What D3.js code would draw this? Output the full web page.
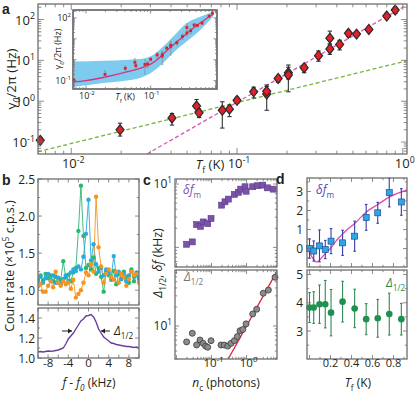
<!DOCTYPE html>
<html><head><meta charset="utf-8">
<script src="https://cdnjs.cloudflare.com/ajax/libs/d3/7.8.5/d3.min.js"></script>
<style>body{margin:0;background:#fff}svg{display:block;font-family:'Open Sans',sans-serif}</style>
</head><body><svg id="c" width="415" height="393"></svg>
<script>
// ---------------- DATA ----------------
// panel a (main + inset)
const aT     = [0.0065,0.0197,0.0405,0.057,0.059,0.0815,0.09,0.1,0.126,0.151,0.151,0.177,0.204,0.204,0.254,0.31,0.363,0.363,0.416,0.47,0.526,0.624,0.8,0.9];
const aGamma = [0.11,0.2,0.39,0.76,0.52,0.6,0.64,1.05,1.7,1.5,1.75,3.6,5.0,4.4,6.6,13,35,19,24.6,46,44,57,122,171];
const aErrLo = [0.09,0.14,0.26,0.55,0.4,0.22,0.42,0.88,1.2,0.6,1.3,2.9,3.5,1.7,5.0,9.5,25,14,18,38,38,49,105,140];
const aErrHi = [0.13,0.29,0.5,1.1,0.65,0.97,0.8,1.25,2.2,2.5,2.3,4.2,6.8,7.7,8.0,17,52,25,31,53,50,65,140,200];
const greenFitT = [0.0063, 1.06];
const greenFitG = [0.058, 9.8];
const magFitT = [0.0286, 1.06];
const magFitG = [0.051, 229];
const insetCurveT = [0.0063,0.01,0.02,0.04,0.07,0.1,0.13,0.17,0.22,0.3,0.4,0.55,0.75,0.95];
const insetCurveG = [0.085,0.1,0.15,0.25,0.4,0.62,1.1,2.4,5.0,11,24,50,100,160];
const bandT  = [0.0063,0.0186,0.04,0.068,0.09,0.11,0.156,0.25,0.36,0.51,0.92];
const bandHi = [0.83,0.9,0.98,1.08,1.3,1.73,4.3,18.8,56,96,200];
const bandLo = [0.05,0.078,0.1,0.135,0.19,0.28,0.7,3.0,7.5,18,115];
const aYTicks = [-1,0,1,2];
const aXTicks = [-2,-1,0];

// panel b
const bFreq = [-10,-9.5,-9,-8.5,-8,-7.5,-7,-6.5,-6,-5.5,-5,-4.5,-4,-3.5,-3,-2.5,-2,-1.5,-1,-0.5,0,0.5,1,1.5,2,2.5,3,3.5,4,4.5,5,5.5,6,6.5,7,7.5,8,8.5,9,9.5,10];
const bGreen  = [1.15,1.20,1.13,1.22,1.16,1.20,1.12,1.18,1.10,1.14,1.39,1.17,1.21,1.12,1.24,1.30,1.80,2.41,1.73,1.30,1.34,1.28,1.44,1.22,1.30,1.18,0.98,1.25,1.20,1.14,1.26,1.08,1.22,1.15,1.25,1.18,1.10,1.28,1.12,1.20,1.15];
const bBlue   = [1.12,1.18,1.10,1.16,1.22,1.14,1.20,1.10,1.17,1.08,1.15,1.20,1.12,1.24,1.28,1.26,1.32,1.28,1.45,1.76,2.22,1.40,1.62,1.35,1.25,1.30,1.20,1.28,1.24,1.18,1.46,1.20,1.25,1.15,1.22,1.12,1.20,1.25,1.18,1.24,1.16];
const bOrange = [1.05,1.08,0.98,0.98,1.06,1.12,1.04,1.25,1.10,1.06,1.12,1.08,1.10,1.02,1.14,0.90,0.95,1.00,1.10,1.24,1.20,1.35,1.25,2.26,1.58,1.32,1.10,1.22,1.28,1.18,1.14,1.25,1.10,1.22,1.18,1.06,1.15,1.25,1.20,1.22,1.10];
const bAvg    = [1.06,1.065,1.06,1.065,1.07,1.068,1.07,1.075,1.08,1.09,1.10,1.14,1.19,1.22,1.25,1.29,1.33,1.37,1.39,1.42,1.425,1.435,1.41,1.36,1.29,1.25,1.21,1.19,1.17,1.15,1.145,1.135,1.13,1.125,1.12,1.115,1.115,1.11,1.105,1.11,1.10];
const bTopYTicks = [1.0,1.5,2.0,2.5];
const bBotYTicks = [1.0,1.2,1.4];
const bXTicks = [-10,-8,-6,-4,-2,0,2,4,6,8,10];
const bXLabels = [-8,-4,0,4,8];

// panel c
const cNdf = [0.0195,0.0283,0.0377,0.049,0.058,0.078,0.097,0.195,0.243,0.302,0.448,0.583,0.682,0.905,0.97,1.5,2.04,2.9,3.93,5.8];
const cDf  = [1.12,1.22,2.29,2.15,2.52,2.37,2.86,4.64,5.24,5.78,6.86,7.4,8.3,9.06,7.7,9.06,9.4,9.6,8.7,8.3];
const cNw  = [0.0195,0.0283,0.0377,0.047,0.058,0.068,0.078,0.097,0.187,0.23,0.29,0.36,0.448,0.546,0.65,0.78,0.97,1.5,1.95,3.0,4.2,6.5];
const cW   = [5.6,7.66,5.0,6.0,5.3,4.8,4.6,5.85,5.0,5.0,4.8,5.3,5.85,6.8,8.4,8.8,10.8,15.5,18.4,33,37,59];
const cFitN = [0.30, 7.4];
const cFitW = [3.0, 74];

// panel d
const dT     = [0.0,0.04,0.095,0.15,0.205,0.315,0.43,0.54,0.65,0.76,0.875];
const dDf    = [0.0,-0.13,0.14,-0.05,0.39,0.3,0.65,1.64,1.88,2.94,2.45];
const dDfErr = [0.51,0.53,0.84,0.48,0.66,0.66,0.79,0.68,0.55,0.75,0.7];
const dW     = [3.83,3.83,3.95,3.95,3.65,4.04,3.8,3.42,3.45,3.6,3.42];
const dWErr  = [0.53,0.56,0.68,0.84,0.82,0.72,0.68,0.55,0.67,0.74,0.56];
const dFitT  = [-0.01,0.03,0.06,0.08,0.12,0.16,0.2,0.25,0.3,0.35,0.43,0.545,0.655,0.767,0.93];
const dFitDf = [-0.1,-0.5,-0.7,-0.68,-0.45,-0.2,0.0,0.38,0.68,0.95,1.32,1.94,2.33,2.73,3.08];
const dXTicks = [0.2,0.4,0.6,0.8];
const dTopYTicks = [0,1,2,3];
const dBotYTicks = [3,4,5];

// ---------------- HELPERS ----------------
const svg = d3.select('#c');
const FR = '#6e6e6e';
const TXT = '#231f20';

function logTickVals(dom){
  const out=[]; const lo=Math.floor(Math.log10(dom[0])), hi=Math.ceil(Math.log10(dom[1]));
  for(let e=lo;e<=hi;e++) for(let k=1;k<10;k++){const v=k*Math.pow(10,e); if(v>=dom[0]*0.999&&v<=dom[1]*1.001) out.push({v,major:k===1});}
  return out;
}
function linTickVals(vals, minor){ return vals.map(v=>({v,major:true})).concat((minor||[]).map(v=>({v,major:false}))); }
function box(g,x,y,fill){
  const [x0,x1]=x.range(), [y1,y0]=y.range();
  g.append('rect').attr('x',x0).attr('y',y0).attr('width',x1-x0).attr('height',y1-y0)
   .attr('fill',fill||'none').attr('stroke',FR).attr('stroke-width',1.3);
}
function ticksX(g,x,y,vals,L){
  const [y1,y0]=y.range();
  vals.forEach(d=>{const px=x(d.v), l=d.major?L:L*0.55;
    g.append('line').attr('x1',px).attr('x2',px).attr('y1',y1).attr('y2',y1-l).attr('stroke',FR).attr('stroke-width',0.8);
    g.append('line').attr('x1',px).attr('x2',px).attr('y1',y0).attr('y2',y0+l).attr('stroke',FR).attr('stroke-width',0.8);});
}
function ticksY(g,x,y,vals,L){
  const [x0,x1]=x.range();
  vals.forEach(d=>{const py=y(d.v), l=d.major?L:L*0.55;
    g.append('line').attr('y1',py).attr('y2',py).attr('x1',x0).attr('x2',x0+l).attr('stroke',FR).attr('stroke-width',0.8);
    g.append('line').attr('y1',py).attr('y2',py).attr('x1',x1).attr('x2',x1-l).attr('stroke',FR).attr('stroke-width',0.8);});
}
// rich text: parts [{t, sub, sup, it}]
function rich(g,x,y,parts,o){
  o=o||{}; const fs=o.fs||12;
  const t=g.append('text').attr('x',x).attr('y',y).attr('font-size',fs).attr('fill',o.fill||TXT)
    .attr('text-anchor',o.anchor||'middle');
  if(o.rot) t.attr('transform',`rotate(${o.rot},${x},${y})`);
  let cur=0;
  parts.forEach(p=>{
    const target = p.sub? fs*0.3 : p.sup? -fs*0.42 : 0;
    const s=t.append('tspan').attr('dy',target-cur).text(p.t);
    cur=target;
    if(p.sub||p.sup) s.attr('font-size',fs*0.68);
    if(p.it) s.attr('font-style','italic');
  });
  return t;
}
function pow10(g,x,y,e,anchor,fs){ return rich(g,x,y,[{t:'10'},{t:String(e),sup:true}],{anchor,fs}); }
function errBars(g,x,y,xs,lo,hi,color,cap,w){
  xs.forEach((xv,i)=>{
    const px=x(xv);
    g.append('line').attr('x1',px).attr('x2',px).attr('y1',y(lo[i])).attr('y2',y(hi[i])).attr('stroke',color).attr('stroke-width',w||1);
    [lo[i],hi[i]].forEach(v=>g.append('line').attr('x1',px-cap).attr('x2',px+cap).attr('y1',y(v)).attr('y2',y(v)).attr('stroke',color).attr('stroke-width',w||1));
  });
}
function clip(id,x,y){
  const [x0,x1]=x.range(), [y1,y0]=y.range();
  svg.append('clipPath').attr('id',id).append('rect').attr('x',x0).attr('y',y0).attr('width',x1-x0).attr('height',y1-y0);
  return `url(#${id})`;
}
const XLAB_Y = 367, XTITLE_Y = 387;

// ---------------- PANEL A ----------------
{
  const g=svg.append('g');
  const x=d3.scaleLog().domain([0.0063,1.06]).range([38,407]);
  const y=d3.scaleLog().domain([0.051,240]).range([154,4]);
  const cp=clip('ca',x,y);
  const lineF=d3.line().x(d=>x(d[0])).y(d=>y(d[1]));
  g.append('path').attr('d',lineF(greenFitT.map((t,i)=>[t,greenFitG[i]]))).attr('clip-path',cp)
    .attr('fill','none').attr('stroke','#77b540').attr('stroke-width',1.3).attr('stroke-dasharray','4,2.5');
  g.append('path').attr('d',lineF(magFitT.map((t,i)=>[t,magFitG[i]]))).attr('clip-path',cp)
    .attr('fill','none').attr('stroke','#d957b8').attr('stroke-width',1.3).attr('stroke-dasharray','4,2.5');
  errBars(g,x,y,aT,aErrLo,aErrHi,'#333',2.2,1.1);
  g.selectAll(null).data(aT).join('path')
    .attr('d','M0,-5L4,0L0,5L-4,0Z')
    .attr('transform',(d,i)=>`translate(${x(d)},${y(aGamma[i])})`)
    .attr('fill','#e3202a').attr('stroke','#2a2a2a').attr('stroke-width',1.2);
  ticksX(g,x,y,logTickVals(x.domain()),6);
  ticksY(g,x,y,logTickVals(y.domain()),6);
  box(g,x,y);
  aYTicks.forEach(e=>pow10(g,35,y(Math.pow(10,e))+5,e,'end',13));
  aXTicks.forEach(e=>pow10(g,x(Math.pow(10,e))+2,168,e,'middle',13));
  rich(g,210,169,[{t:'T',it:true},{t:'f',sub:true},{t:' (K)'}],{fs:13});
  rich(g,16,79,[{t:'γ'},{t:'0',sub:true,it:true},{t:'/2π (Hz)'}],{fs:13.5,rot:-90});
  svg.append('text').attr('x',2).attr('y',14).attr('font-size',14).attr('font-weight','bold')
     .attr('font-family','Liberation Sans, Arial, sans-serif').attr('fill',TXT).text('a');

  // inset
  const gi=svg.append('g');
  const xi=d3.scaleLog().domain([0.0063,1.06]).range([73,217]);
  const yi=d3.scaleLog().domain([0.04,240]).range([89,10]);
  box(gi,xi,yi,'#fff');
  const cpi=clip('ci',xi,yi);
  const area=d3.area().x(d=>xi(d[0])).y0(d=>yi(d[1])).y1(d=>yi(d[2])).curve(d3.curveMonotoneX);
  gi.append('path').attr('d',area(bandT.map((t,i)=>[t,bandLo[i],bandHi[i]]))).attr('clip-path',cpi)
    .attr('fill','#7fcbf0');
  const lineI=d3.line().x(d=>xi(d[0])).y(d=>yi(d[1])).curve(d3.curveMonotoneX);
  gi.append('path').attr('d',lineI(insetCurveT.map((t,i)=>[t,insetCurveG[i]]))).attr('clip-path',cpi)
    .attr('fill','none').attr('stroke','#d6337f').attr('stroke-width',1.3);
  errBars(gi,xi,yi,aT,aErrLo,aErrHi,'#8a8a8a',1,0.7);
  gi.selectAll(null).data(aT).join('rect')
    .attr('x',d=>xi(d)-1.4).attr('y',(d,i)=>yi(aGamma[i])-1.4).attr('width',2.8).attr('height',2.8)
    .attr('fill','#e3202a');
  ticksX(gi,xi,yi,logTickVals(xi.domain()),3.5);
  ticksY(gi,xi,yi,logTickVals(yi.domain()),3.5);
  box(gi,xi,yi);
  [2,-1].forEach(e=>pow10(gi,71,yi(Math.pow(10,e))+3,e,'end',9));
  [-2,-1].forEach(e=>pow10(gi,xi(Math.pow(10,e))+1,99,e,'middle',9));
  rich(gi,125,100,[{t:'T',it:true},{t:'f',sub:true},{t:' (K)'}],{fs:9});
  rich(gi,61,49,[{t:'γ'},{t:'0',sub:true,it:true},{t:'/2π (Hz)'}],{fs:9,rot:-90});
}

// ---------------- PANEL B ----------------
{
  const g=svg.append('g');
  const x=d3.scaleLinear().domain([-10,10]).range([38,139]);
  const yT=d3.scaleLinear().domain([0.8,2.5]).range([305,179]);
  const yB=d3.scaleLinear().domain([1.0,1.5]).range([358,308]);
  const cp=clip('cb',x,yT);
  const series=[[bGreen,'#2bb673'],[bBlue,'#27aae1'],[bOrange,'#f7941d']];
  const lf=d3.line().x((d,i)=>x(bFreq[i])).y(d=>yT(d));
  series.forEach(([s,c])=>{
    g.append('path').attr('d',lf(s)).attr('fill','none').attr('stroke',c).attr('stroke-width',1).attr('clip-path',cp).attr('opacity',0.9);
  });
  series.forEach(([s,c])=>{
    g.selectAll(null).data(s).join('circle').attr('cx',(d,i)=>x(bFreq[i])).attr('cy',d=>yT(d)).attr('r',2.2)
      .attr('fill',c).attr('clip-path',cp);
  });
  ticksX(g,x,yT,linTickVals(bXTicks),3.5);
  ticksY(g,x,yT,linTickVals(bTopYTicks,[1.25,1.75,2.25]),4);
  box(g,x,yT);
  bTopYTicks.forEach(v=>g.append('text').attr('x',35).attr('y',yT(v)+4.5).attr('text-anchor','end').attr('font-size',12).attr('fill',TXT).text(v.toFixed(1)));

  g.append('path').attr('d',d3.line().x((d,i)=>x(bFreq[i])).y(d=>yB(d))(bAvg))
    .attr('fill','none').attr('stroke','#6a3e9e').attr('stroke-width',1.4);
  ticksX(g,x,yB,linTickVals(bXTicks),3.5);
  ticksY(g,x,yB,linTickVals(bBotYTicks,[1.1,1.3]),4);
  box(g,x,yB);
  bBotYTicks.forEach(v=>g.append('text').attr('x',35).attr('y',yB(v)+4.5).attr('text-anchor','end').attr('font-size',12).attr('fill',TXT).text(v.toFixed(1)));
  bXLabels.forEach(v=>g.append('text').attr('x',x(v)).attr('y',XLAB_Y).attr('text-anchor','middle').attr('font-size',11.5).attr('fill',TXT).text(v<0?'-'+(-v):v));
  rich(g,89,XTITLE_Y,[{t:'f',it:true},{t:' - '},{t:'f',it:true},{t:'0',sub:true,it:true},{t:' (kHz)'}],{fs:12});
  rich(g,14,266,[{t:'Count rate (×10'},{t:'5',sup:true},{t:' c.p.s.)'}],{fs:12.5,rot:-90});
  // arrows + label
  const ay=yB(1.27);
  const arr=(xa,xb)=>{ g.append('line').attr('x1',xa).attr('x2',xb).attr('y1',ay).attr('y2',ay).attr('stroke','#222').attr('stroke-width',1);
    const dir=Math.sign(xb-xa);
    g.append('path').attr('d',`M${xb},${ay}L${xb-dir*4},${ay-2.5}L${xb-dir*4},${ay+2.5}Z`).attr('fill','#222'); };
  arr(62,72); arr(110,101);
  rich(g,114,ay+4,[{t:'Δ',it:true},{t:'1/2',sub:true}],{fs:12,anchor:'start'});
  svg.append('text').attr('x',2).attr('y',185).attr('font-size',14).attr('font-weight','bold')
     .attr('font-family','Liberation Sans, Arial, sans-serif').attr('fill',TXT).text('b');
}

// ---------------- PANEL C ----------------
{
  const g=svg.append('g');
  const x=d3.scaleLog().domain([0.0091,7.4]).range([175,277]);
  const yT=d3.scaleLog().domain([0.49,12]).range([267,179]);
  const yB=d3.scaleLog().domain([3.0,77]).range([359,270]);
  g.selectAll(null).data(cNdf).join('rect')
    .attr('x',d=>x(d)-3).attr('y',(d,i)=>yT(cDf[i])-3).attr('width',6).attr('height',6)
    .attr('fill','#7a52a9').attr('stroke','#5b3a8c').attr('stroke-width',0.6);
  ticksX(g,x,yT,logTickVals(x.domain()),4);
  ticksY(g,x,yT,logTickVals(yT.domain()),4);
  box(g,x,yT);
  pow10(g,172,yT(10)+4,1,'end',12);
  rich(g,183,194,[{t:'δ',it:true},{t:'f',it:true},{t:'m',sub:true}],{fs:12,anchor:'start',fill:'#7d4fae'});

  const cp=clip('cc',x,yB);
  g.append('path').attr('d',d3.line().x(d=>x(d[0])).y(d=>yB(d[1]))(cFitN.map((n,i)=>[n,cFitW[i]])))
    .attr('clip-path',cp).attr('stroke','#ec1c3a').attr('stroke-width',1.3).attr('fill','none');
  g.selectAll(null).data(cNw).join('circle')
    .attr('cx',d=>x(d)).attr('cy',(d,i)=>yB(cW[i])).attr('r',3)
    .attr('fill','#8c8c8c').attr('stroke','#3a3a3a').attr('stroke-width',0.8);
  ticksX(g,x,yB,logTickVals(x.domain()),4);
  ticksY(g,x,yB,logTickVals(yB.domain()),4);
  box(g,x,yB);
  pow10(g,172,yB(10)+4,1,'end',12);
  rich(g,184,281,[{t:'Δ',it:true},{t:'1/2',sub:true}],{fs:12,anchor:'start',fill:'#777'});
  [-1,0].forEach(e=>pow10(g,x(Math.pow(10,e))+2,XLAB_Y,e,'middle',11.5));
  rich(g,226,XTITLE_Y,[{t:'n',it:true},{t:'c',sub:true},{t:' (photons)'}],{fs:12});
  rich(g,162,263,[{t:'Δ',it:true},{t:'1/2',sub:true},{t:', '},{t:'δ',it:true},{t:'f',it:true},{t:' (kHz)'}],{fs:12.5,rot:-90});
  svg.append('text').attr('x',143).attr('y',185).attr('font-size',14).attr('font-weight','bold')
     .attr('font-family','Liberation Sans, Arial, sans-serif').attr('fill',TXT).text('c');
}

// ---------------- PANEL D ----------------
{
  const g=svg.append('g');
  const x=d3.scaleLinear().domain([-0.024,0.929]).range([307,407]);
  const yT=d3.scaleLinear().domain([-0.97,3.71]).range([267,178]);
  const yB=d3.scaleLinear().domain([2.01,5.16]).range([359,270]);
  const cp=clip('cd',x,yT);
  g.append('path').attr('d',d3.line().x(d=>x(d[0])).y(d=>yT(d[1])).curve(d3.curveCatmullRom)(dFitT.map((t,i)=>[t,dFitDf[i]])))
    .attr('clip-path',cp).attr('fill','none').attr('stroke','#e04aae').attr('stroke-width',1.3);
  g.append('g').attr('clip-path',cp).call(gg=>errBars(gg,x,yT,dT,dDf.map((v,i)=>v-dDfErr[i]),dDf.map((v,i)=>v+dDfErr[i]),'#3d3da6',1.3,1.1));
  g.selectAll(null).data(dT).join('rect')
    .attr('x',d=>x(d)-3).attr('y',(d,i)=>yT(dDf[i])-3).attr('width',6).attr('height',6)
    .attr('fill','#2aa7e4').attr('stroke','#1d4f9a').attr('stroke-width',0.7);
  ticksX(g,x,yT,linTickVals([0,0.2,0.4,0.6,0.8],[0.1,0.3,0.5,0.7,0.9]),4);
  ticksY(g,x,yT,linTickVals(dTopYTicks,[-0.5,0.5,1.5,2.5,3.5]),4);
  box(g,x,yT);
  dTopYTicks.forEach(v=>g.append('text').attr('x',303).attr('y',yT(v)+4.5).attr('text-anchor','end').attr('font-size',12).attr('fill',TXT).text(v));
  rich(g,316,194,[{t:'δ',it:true},{t:'f',it:true},{t:'m',sub:true}],{fs:12,anchor:'start',fill:'#4b4bb8'});

  errBars(g,x,yB,dT,dW.map((v,i)=>v-dWErr[i]),dW.map((v,i)=>v+dWErr[i]),'#2f8a52',1.3,1.1);
  g.selectAll(null).data(dT).join('circle')
    .attr('cx',d=>x(d)).attr('cy',(d,i)=>yB(dW[i])).attr('r',3.3).attr('fill','#1e9150');
  ticksX(g,x,yB,linTickVals([0,0.2,0.4,0.6,0.8],[0.1,0.3,0.5,0.7,0.9]),4);
  ticksY(g,x,yB,linTickVals(dBotYTicks,[2.5,3.5,4.5]),4);
  box(g,x,yB);
  dBotYTicks.forEach(v=>g.append('text').attr('x',303).attr('y',yB(v)+4.5).attr('text-anchor','end').attr('font-size',12).attr('fill',TXT).text(v));
  rich(g,386,287,[{t:'Δ',it:true},{t:'1/2',sub:true}],{fs:12,anchor:'start',fill:'#2a8a4e'});
  dXTicks.forEach(v=>g.append('text').attr('x',x(v)).attr('y',XLAB_Y).attr('text-anchor','middle').attr('font-size',11).attr('fill',TXT).text(v.toFixed(1)));
  rich(g,358,XTITLE_Y,[{t:'T',it:true},{t:'f',sub:true},{t:' (K)'}],{fs:12});
  svg.append('text').attr('x',276).attr('y',184).attr('font-size',14).attr('font-weight','bold')
     .attr('font-family','Liberation Sans, Arial, sans-serif').attr('fill',TXT).text('d');
}
</script></body></html>
